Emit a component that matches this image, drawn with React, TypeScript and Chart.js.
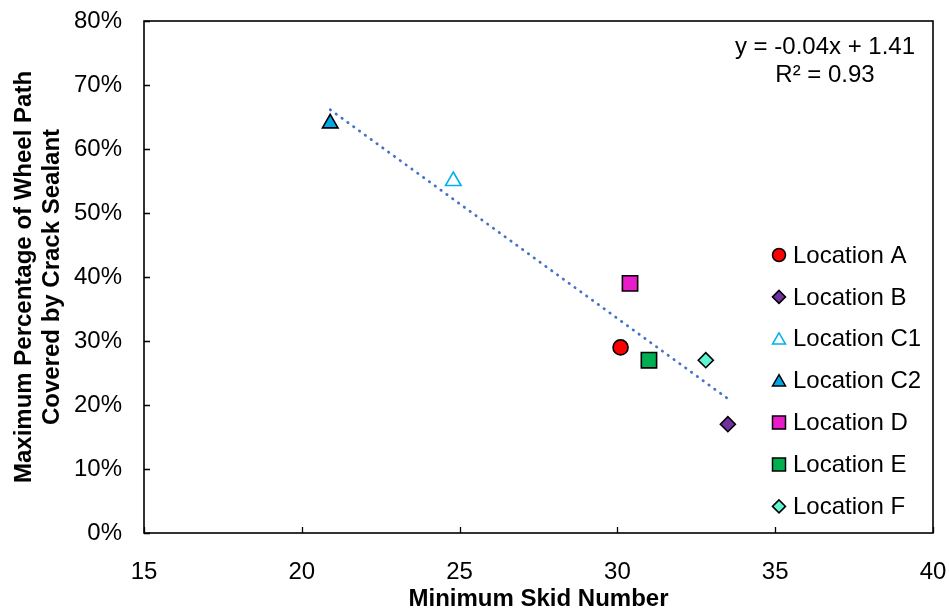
import React, { useEffect, useRef } from 'react';
import { Chart, registerables } from 'chart.js';

Chart.register(...registerables);

// ---- data ----
const locations = ['Location A', 'Location B', 'Location C1', 'Location C2', 'Location D', 'Location E', 'Location F'];
const skidNumber = [30.1, 33.5, 24.8, 20.9, 30.4, 31.0, 32.8];
const coverage = [0.29, 0.17, 0.55, 0.64, 0.39, 0.27, 0.27];
const equationLines = ['y = -0.04x + 1.41', 'R² = 0.93'];
const xAxisTitle = 'Minimum Skid Number';
const yAxisTitle = ['Maximum Percentage of Wheel Path', 'Covered by Crack Sealant'];

// ---- styles ----
const pointStyles = ['circle', 'rectRot', 'triangle', 'triangle', 'rect', 'rect', 'rectRot'];
const fillColors = ['#FF0000', '#7030A0', '#FFFFFF', '#00A8E8', '#E81CC8', '#00B050', '#5EF5CF'];
const borderColors = ['#000000', '#000000', '#00B0F0', '#000000', '#000000', '#000000', '#000000'];
const pointRadii = [7.5, 7.5, 9, 9, 10.8, 10.8, 7.5];
const legendSizes = [6.5, 6.5, 7.5, 7.5, 6.5, 6.5, 6.5];

const FONT = "'Liberation Sans', Arial, sans-serif";

function linearFit(xs: number[], ys: number[]) {
  const n = xs.length;
  const mx = xs.reduce((a, b) => a + b, 0) / n;
  const my = ys.reduce((a, b) => a + b, 0) / n;
  let sxy = 0;
  let sxx = 0;
  for (let i = 0; i < n; i++) {
    sxy += (xs[i] - mx) * (ys[i] - my);
    sxx += (xs[i] - mx) * (xs[i] - mx);
  }
  const slope = sxy / sxx;
  return { slope, intercept: my - slope * mx };
}

function drawMarker(ctx: CanvasRenderingContext2D, style: string, x: number, y: number, r: number) {
  ctx.beginPath();
  if (style === 'circle') {
    ctx.arc(x, y, r, 0, Math.PI * 2);
  } else if (style === 'rectRot') {
    ctx.moveTo(x - r, y);
    ctx.lineTo(x, y - r);
    ctx.lineTo(x + r, y);
    ctx.lineTo(x, y + r);
    ctx.closePath();
  } else if (style === 'triangle') {
    for (let k = 0; k < 3; k++) {
      const a = (k * 2 * Math.PI) / 3;
      const px = x + Math.sin(a) * r;
      const py = y - Math.cos(a) * r + r * 0.2;
      if (k === 0) ctx.moveTo(px, py);
      else ctx.lineTo(px, py);
    }
    ctx.closePath();
  } else {
    ctx.rect(x - r, y - r, 2 * r, 2 * r);
  }
}

const framePlugin = {
  id: 'framePlugin',
  afterDatasetsDraw(chart: any) {
    const { ctx, chartArea } = chart;
    const { left, top, right, bottom } = chartArea;
    ctx.save();
    ctx.strokeStyle = '#000000';
    ctx.lineWidth = 1.6;
    ctx.strokeRect(left, top, right - left, bottom - top);
    // inside tick marks
    const xs = chart.scales.x;
    const ys = chart.scales.y;
    ctx.lineWidth = 1.3;
    ctx.beginPath();
    xs.ticks.forEach((t: any) => {
      const px = Math.round(xs.getPixelForValue(t.value)) + 0.5;
      ctx.moveTo(px, bottom);
      ctx.lineTo(px, bottom - 6);
    });
    ys.ticks.forEach((t: any) => {
      const py = Math.round(ys.getPixelForValue(t.value)) + 0.5;
      ctx.moveTo(left, py);
      ctx.lineTo(left + 6, py);
    });
    ctx.stroke();

    // equation
    ctx.fillStyle = '#000000';
    ctx.font = `24px ${FONT}`;
    ctx.textAlign = 'center';
    ctx.textBaseline = 'middle';
    const ex = right - 108;
    equationLines.forEach((line, i) => {
      ctx.fillText(line, ex, top + 26 + i * 28);
    });

    // legend
    const lx = right - 154;
    const ly0 = top + 234;
    const step = 41.9;
    locations.forEach((name, i) => {
      const cy = ly0 + i * step;
      ctx.fillStyle = fillColors[i];
      ctx.strokeStyle = borderColors[i];
      ctx.lineWidth = 1.5;
      drawMarker(ctx, pointStyles[i], lx, cy, legendSizes[i]);
      ctx.fill();
      ctx.stroke();
      ctx.fillStyle = '#000000';
      ctx.textAlign = 'left';
      ctx.fillText(name, lx + 14, cy + 1);
    });
    ctx.restore();
  },
};

export default function App() {
  const canvasRef = useRef<HTMLCanvasElement | null>(null);

  useEffect(() => {
    if (!canvasRef.current) return;
    const fit = linearFit(skidNumber, coverage);
    const xMin = Math.min(...skidNumber);
    const xMax = Math.max(...skidNumber);

    const pointDatasets = locations.map((name, i) => ({
      type: 'scatter' as const,
      label: name,
      data: [{ x: skidNumber[i], y: coverage[i] }],
      pointStyle: pointStyles[i],
      pointRadius: pointRadii[i],
      pointBackgroundColor: fillColors[i],
      pointBorderColor: borderColors[i],
      pointBorderWidth: 1.6,
      showLine: false,
    }));

    const trend = {
      type: 'line' as const,
      label: 'Linear fit',
      data: [
        { x: xMin, y: fit.intercept + fit.slope * xMin },
        { x: xMax, y: fit.intercept + fit.slope * xMax },
      ],
      borderColor: '#4472C4',
      borderWidth: 2.7,
      borderDash: [0.5, 6.7],
      borderCapStyle: 'round',
      pointRadius: 0,
      fill: false,
    };

    const chart = new Chart(canvasRef.current, {
      type: 'scatter',
      data: { datasets: [...pointDatasets, trend] as any },
      options: {
        animation: false,
        responsive: true,
        maintainAspectRatio: false,
        layout: { padding: { top: 21, right: 16, left: 0, bottom: 0 } },
        plugins: {
          legend: { display: false },
          tooltip: { enabled: false },
        },
        scales: {
          x: {
            type: 'linear',
            min: 15,
            max: 40,
            ticks: {
              stepSize: 5,
              color: '#000000',
              padding: 25,
              font: { family: FONT, size: 24 },
              maxRotation: 0,
            },
            grid: { display: false, drawTicks: false },
            border: { display: false },
            title: {
              display: true,
              text: xAxisTitle,
              color: '#000000',
              font: { family: FONT, size: 24, weight: 'bold', lineHeight: 1 },
              padding: 0,
            },
            afterFit: (scale: any) => {
              scale.height = 78;
              scale.paddingLeft = 0;
              scale.paddingRight = 0;
            },
          },
          y: {
            type: 'linear',
            min: 0,
            max: 0.8,
            ticks: {
              stepSize: 0.1,
              color: '#000000',
              padding: 22,
              font: { family: FONT, size: 24 },
              callback: (v: any) => `${Math.round(Number(v) * 100)}%`,
            },
            grid: { display: false, drawTicks: false },
            border: { display: false },
            title: {
              display: true,
              text: yAxisTitle,
              color: '#000000',
              font: { family: FONT, size: 24, weight: 'bold', lineHeight: 1.2 },
              padding: { top: 9.5, bottom: 0 },
            },
            afterFit: (scale: any) => {
              scale.width = 144;
              scale.paddingTop = 0;
              scale.paddingBottom = 0;
            },
          },
        },
      },
      plugins: [framePlugin],
    });
    return () => chart.destroy();
  }, []);

  return (
    <div style={{ position: 'absolute', left: 0, top: 0, width: 949, height: 611, background: '#ffffff' }}>
      <canvas ref={canvasRef} />
    </div>
  );
}
